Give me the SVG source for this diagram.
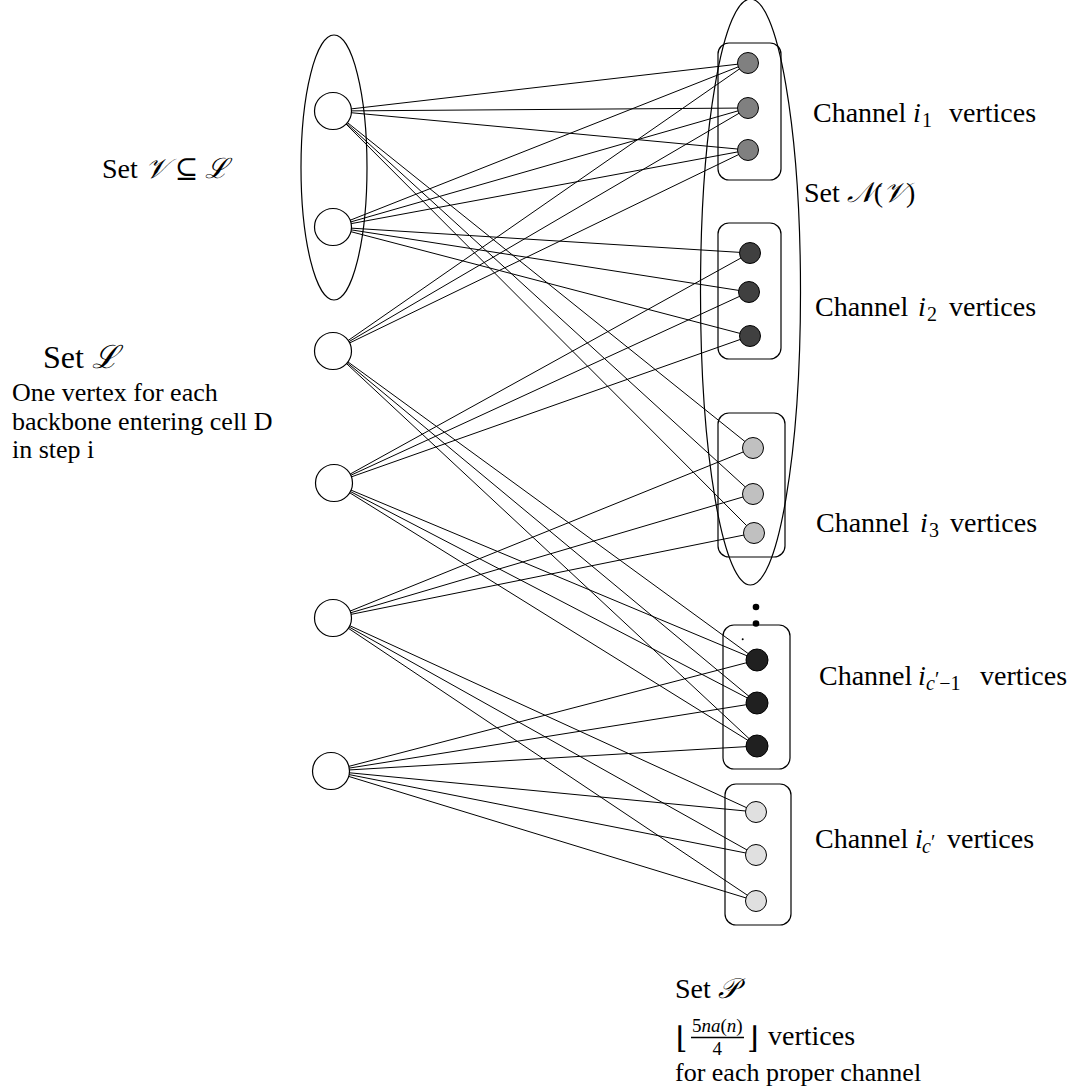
<svg xmlns="http://www.w3.org/2000/svg" width="1081" height="1088" viewBox="0 0 1081 1088">
<style>
.edge{stroke:#000;stroke-width:1;fill:none}
.lnode{fill:#fff;stroke:#000;stroke-width:1.2}
.rnode{stroke:#000;stroke-width:1}
.box{fill:none;stroke:#000;stroke-width:1.2}
.set{fill:none;stroke:#000;stroke-width:1.2}
.lbl{font-family:"Liberation Serif","DejaVu Serif",serif;font-size:28px;fill:#000}
.big{font-size:32px}
.txt{font-family:"Liberation Serif","DejaVu Serif",serif;font-size:26px;fill:#000}
.it{font-style:italic}
.sub{font-size:20px}
.frac{font-size:19px}
.brk{font-size:30px}
.c1{fill:#808080}.c2{fill:#404040}.c3{fill:#c0c0c0}.c4{fill:#202020}.c5{fill:#e0e0e0}
</style>
<rect width="1081" height="1088" fill="#fff"/>
<g id="connectors" class="edge">
<line x1="333" y1="111" x2="748" y2="63"/>
<line x1="333" y1="111" x2="748" y2="108"/>
<line x1="333" y1="111" x2="748" y2="150"/>
<line x1="333" y1="111" x2="753" y2="448"/>
<line x1="333" y1="111" x2="753" y2="494"/>
<line x1="333" y1="111" x2="754" y2="533"/>
<line x1="333" y1="227" x2="748" y2="63"/>
<line x1="333" y1="227" x2="748" y2="108"/>
<line x1="333" y1="227" x2="748" y2="150"/>
<line x1="333" y1="227" x2="750" y2="253"/>
<line x1="333" y1="227" x2="749" y2="292"/>
<line x1="333" y1="227" x2="750" y2="336"/>
<line x1="333" y1="351" x2="748" y2="63"/>
<line x1="333" y1="351" x2="748" y2="108"/>
<line x1="333" y1="351" x2="748" y2="150"/>
<line x1="333" y1="351" x2="757" y2="660"/>
<line x1="333" y1="351" x2="757" y2="703"/>
<line x1="333" y1="351" x2="757" y2="746"/>
<line x1="334" y1="483" x2="750" y2="253"/>
<line x1="334" y1="483" x2="749" y2="292"/>
<line x1="334" y1="483" x2="750" y2="336"/>
<line x1="334" y1="483" x2="757" y2="660"/>
<line x1="334" y1="483" x2="757" y2="703"/>
<line x1="334" y1="483" x2="757" y2="746"/>
<line x1="333" y1="618" x2="753" y2="448"/>
<line x1="333" y1="618" x2="753" y2="494"/>
<line x1="333" y1="618" x2="754" y2="533"/>
<line x1="333" y1="618" x2="756" y2="812"/>
<line x1="333" y1="618" x2="756" y2="855"/>
<line x1="333" y1="618" x2="756" y2="901"/>
<line x1="331" y1="771" x2="757" y2="660"/>
<line x1="331" y1="771" x2="757" y2="703"/>
<line x1="331" y1="771" x2="757" y2="746"/>
<line x1="331" y1="771" x2="756" y2="812"/>
<line x1="331" y1="771" x2="756" y2="855"/>
<line x1="331" y1="771" x2="756" y2="901"/>
</g>
<g id="set-V"><ellipse class="set" cx="334" cy="167.5" rx="33" ry="132.5"/></g>
<g id="set-NV"><ellipse class="set" cx="750.5" cy="292" rx="50" ry="293"/></g>
<g id="l1"><circle class="lnode" cx="333" cy="111" r="18.5"/></g>
<g id="l2"><circle class="lnode" cx="333" cy="227" r="18.5"/></g>
<g id="l3"><circle class="lnode" cx="333" cy="351" r="18.5"/></g>
<g id="l4"><circle class="lnode" cx="334" cy="483" r="18.5"/></g>
<g id="l5"><circle class="lnode" cx="333" cy="618" r="18.5"/></g>
<g id="l6"><circle class="lnode" cx="331" cy="771" r="18.5"/></g>
<g id="ch-i1">
<rect class="box" x="718" y="43" width="63" height="137" rx="11"/>
<circle class="rnode c1" cx="748" cy="63" r="10.5"/>
<circle class="rnode c1" cx="748" cy="108" r="10.5"/>
<circle class="rnode c1" cx="748" cy="150" r="10.5"/>
</g>
<g id="ch-i2">
<rect class="box" x="718" y="223" width="63" height="136" rx="11"/>
<circle class="rnode c2" cx="750" cy="253" r="10.5"/>
<circle class="rnode c2" cx="749" cy="292" r="10.5"/>
<circle class="rnode c2" cx="750" cy="336" r="10.5"/>
</g>
<g id="ch-i3">
<rect class="box" x="718" y="413" width="67" height="144" rx="11"/>
<circle class="rnode c3" cx="753" cy="448" r="10.5"/>
<circle class="rnode c3" cx="753" cy="494" r="10.5"/>
<circle class="rnode c3" cx="754" cy="533" r="10.5"/>
</g>
<g id="ellipsis-dots">
<circle cx="756" cy="607" r="3.3" fill="#000"/>
<circle cx="756" cy="623.5" r="3.3" fill="#000"/>
<circle cx="742.7" cy="639.3" r="1" fill="#000"/>
</g>
<g id="ch-ic1">
<rect class="box" x="723" y="625" width="67" height="144" rx="11"/>
<circle class="rnode c4" cx="757" cy="660" r="11"/>
<circle class="rnode c4" cx="757" cy="703" r="11"/>
<circle class="rnode c4" cx="757" cy="746" r="11"/>
</g>
<g id="ch-ic">
<rect class="box" x="725" y="784" width="66" height="141" rx="11"/>
<circle class="rnode c5" cx="756" cy="812" r="10.5"/>
<circle class="rnode c5" cx="756" cy="855" r="10.5"/>
<circle class="rnode c5" cx="756" cy="901" r="10.5"/>
</g>
<g id="labels">
<text class="lbl" x="813" y="122">Channel <tspan class="it" x="913">i</tspan><tspan class="sub" x="922" y="127">1</tspan><tspan x="949" y="122">vertices</tspan></text>
<text class="lbl" x="804" y="202">Set <tspan class="it">𝒩</tspan>(<tspan class="it">𝒱</tspan>)</text>
<text class="lbl" x="815" y="316">Channel <tspan class="it" x="918">i</tspan><tspan class="sub" x="927" y="321">2</tspan><tspan x="949" y="316">vertices</tspan></text>
<text class="lbl" x="816" y="532">Channel <tspan class="it" x="920">i</tspan><tspan class="sub" x="929" y="537">3</tspan><tspan x="950" y="532">vertices</tspan></text>
<text class="lbl" x="819" y="685">Channel <tspan class="it" x="918">i</tspan><tspan class="sub it" x="926" y="690">c</tspan><tspan class="sub" y="686">′</tspan><tspan class="sub" y="690">−1</tspan><tspan x="980" y="685">vertices</tspan></text>
<text class="lbl" x="815" y="848">Channel <tspan class="it" x="915">i</tspan><tspan class="sub it" x="922" y="853">c</tspan><tspan class="sub" y="849">′</tspan><tspan x="947" y="848">vertices</tspan></text>
<text class="lbl" x="102" y="178">Set <tspan class="it">𝒱</tspan> ⊆ <tspan class="it">ℒ</tspan></text>
<text class="lbl big" x="43" y="368">Set <tspan class="it">ℒ</tspan></text>
<text class="txt" x="12" y="401">One vertex for each</text>
<text class="txt" x="12" y="429.7">backbone entering cell D</text>
<text class="txt" x="12" y="458.3">in step i</text>
<text class="lbl" x="675" y="998">Set <tspan class="it">𝒫</tspan></text>
<text class="lbl"><tspan class="brk" x="676" y="1048">⌊</tspan><tspan class="frac" x="692" y="1032">5<tspan class="it">na</tspan>(<tspan class="it">n</tspan>)</tspan><tspan class="frac" x="712.5" y="1055">4</tspan><tspan class="brk" x="747" y="1048">⌋</tspan><tspan x="768" y="1045">vertices</tspan></text>
<line x1="691" y1="1037.5" x2="744" y2="1037.5" stroke="#000" stroke-width="1.3"/>
<text class="txt" x="675" y="1081" font-size="24">for each proper channel</text>
</g>
</svg>
